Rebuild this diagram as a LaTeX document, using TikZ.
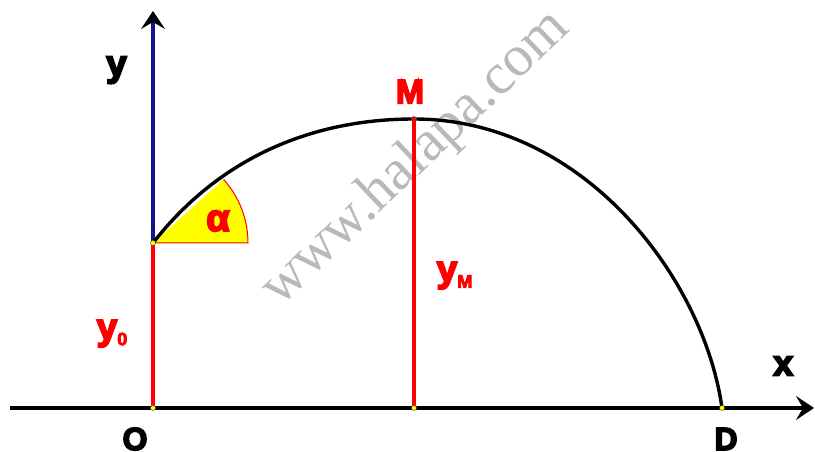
\documentclass[tikz,border=0pt]{standalone}
\usepackage{fontspec}
\setmainfont{Liberation Sans}
\newfontfamily\heavy[FakeBold=5]{Liberation Sans Bold}
\newfontfamily\wmfont{Liberation Serif}
\usetikzlibrary{arrows.meta}
\definecolor{myred}{RGB}{255,0,0}
\definecolor{myblue}{RGB}{20,20,140}
\definecolor{myyellow}{RGB}{255,255,0}
\definecolor{wmgray}{RGB}{185,185,185}
\tikzset{
  axisline/.style={line width=3.4pt, -{Stealth[length=18pt,width=24pt,inset=7pt]}},
  redline/.style={myred, line width=3.2pt},
  curveline/.style={black, line width=3.4pt},
  dotpt/.style={circle, fill=myyellow, draw=black!70, line width=0.4pt, inner sep=0pt, minimum size=5pt},
  biglbl/.style={inner sep=0pt, anchor=base, font=\heavy\fontsize{32}{32}\selectfont},
  smalllbl/.style={inner sep=0pt, anchor=base west, font=\heavy\fontsize{35}{35}\selectfont},
}
\begin{document}
\begin{tikzpicture}[x=1pt,y=1pt]
\useasboundingbox (0,0) rectangle (815,452);
% watermark
\node[wmgray, inner sep=0pt, anchor=base west, rotate=43.6, font=\wmfont\fontsize{58}{58}\selectfont] (wm) at (280,144) {www.halapa.com};
% points
\coordinate (O) at (153,44);
\coordinate (S) at (153,209);
\coordinate (M) at (414,333);
\coordinate (D) at (722,44);
\coordinate (MB) at (414,44);
\coordinate (xl) at (10,44);
\coordinate (xr) at (814,44);
\coordinate (yt) at (153,441);
% sector
\fill[myyellow] (S) -- ++(95,0) arc[start angle=0, end angle=42, radius=95] -- cycle;
\draw[myred, line width=1pt] (S) -- ++(95,0) arc[start angle=0, end angle=42, radius=95];
% axes
\draw[axisline, black] (xl) -- (xr);
\draw[axisline, myblue, -{Stealth[length=18pt,width=24pt,inset=7pt,black]}] (S) -- (yt);
% red verticals
\draw[redline] (O) -- (S);
\draw[redline] (MB) -- (M);
% trajectory
\draw[curveline] (S) .. controls (220.7,295.7) and (314,333) .. (M);
\draw[curveline] (M) .. controls (584,333) and (704,173) .. (D);
% dots
\node[dotpt] (dO) at (O) {};
\node[dotpt] (dS) at (S) {};
\node[dotpt] (dD) at (D) {};
\node[dotpt] (dMB) at (MB) {};
\node[circle, fill=myred, draw=black!70, line width=0.4pt, inner sep=0pt, minimum size=5pt] (dM) at (M) {};
% labels
\node[smalllbl, font=\heavy\fontsize{37}{37}\selectfont] (ly) at (106,376) {y};
\node[smalllbl, font=\heavy\fontsize{36}{36}\selectfont] (lx) at (773,76.5) {x};
\node[biglbl, myred, font=\heavy\fontsize{34}{34}\selectfont] (lM) at (410,348.7) {M};
\node[biglbl] (lO) at (135,2) {O};
\node[biglbl] (lD) at (726,2) {D};
\node[smalllbl, myred, font=\heavy\fontsize{37}{37}\selectfont] (lyM) at (436.5,170.5) {y\raisebox{-6.3pt}{\fontsize{18}{18}\selectfont M}};
\node[smalllbl, myred, font=\heavy\fontsize{37}{37}\selectfont] (ly0) at (96.5,112.5) {y\raisebox{-5.8pt}{\fontsize{18}{18}\selectfont 0}};
\node[biglbl, myred, font=\heavy\fontsize{38}{38}\selectfont] (la) at (218,221) {α};
\end{tikzpicture}
\end{document}
